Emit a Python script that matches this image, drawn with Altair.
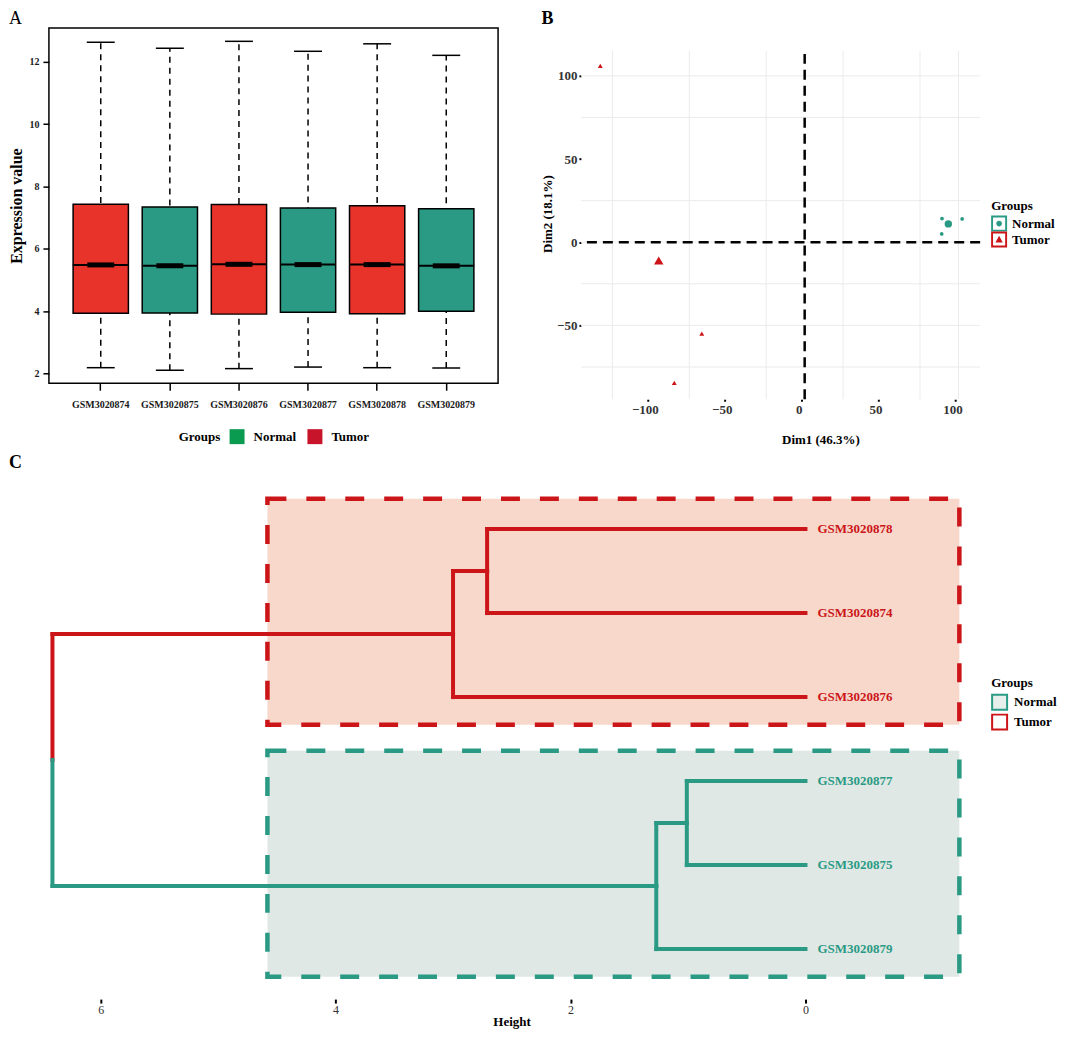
import altair as alt
import pandas as pd

FONT = "Liberation Serif"

# ---------------- Panel A : boxplots ----------------
samples = ["GSM3020874", "GSM3020875", "GSM3020876", "GSM3020877", "GSM3020878", "GSM3020879"]
sample_groups = ["Tumor", "Normal", "Tumor", "Normal", "Tumor", "Normal"]
whisker_low = [2.18, 2.10, 2.15, 2.20, 2.18, 2.17]
q1 = [3.93, 3.94, 3.90, 3.96, 3.91, 3.99]
median = [5.48, 5.45, 5.50, 5.49, 5.49, 5.45]
q3 = [7.43, 7.34, 7.42, 7.31, 7.38, 7.28]
whisker_high = [12.63, 12.44, 12.66, 12.34, 12.58, 12.21]
y_ticks_a = [2, 4, 6, 8, 10, 12]

group_names = ["Normal", "Tumor"]
box_fill = {"Normal": "#2A9A84", "Tumor": "#E7332A"}
legend_a_colors = ["#0A9B50", "#C8142B"]

# ---------------- Panel B : PCA ----------------
tumor_dim1 = [-132.9, -66.9, -84.8]
tumor_dim2 = [106.0, -55.0, -84.6]
normal_dim1 = [89.3, 102.4, 89.1]
normal_dim2 = [14.2, 14.0, 5.0]
tumor_center = [-94.9, -11.0]
normal_center = [93.4, 11.0]
grid_x = [-125, -75, -25, 25, 75, 100]
grid_y = [100, 75, 25, 0, -25, -50, -75]
ticks_x_b = [-100, -50, 0, 50, 100]
ticks_y_b = [-50, 0, 50, 100]

# ---------------- Panel C : dendrogram ----------------
leaf_names = ["GSM3020878", "GSM3020874", "GSM3020876", "GSM3020877", "GSM3020875", "GSM3020879"]
leaf_groups = ["Tumor", "Tumor", "Tumor", "Normal", "Normal", "Normal"]
# (child a, child b, merge height)
merges = [("L0", "L1", 2.71), ("M0", "L2", 3.00), ("L3", "L4", 1.01), ("M2", "L5", 1.27), ("M1", "M3", 6.41)]
cluster_box_height = [4.58, -1.31]
ticks_c = [0, 2, 4, 6]

RED = "#CC1518"
GREEN = "#2A9A84"
line_col = {"Tumor": RED, "Normal": GREEN}

# ======================= Panel A =======================
dfA = pd.DataFrame({"sample": samples, "group": sample_groups, "lo": whisker_low, "q1": q1,
                    "med": median, "q3": q3, "hi": whisker_high})
dfA["col"] = dfA["group"].map(box_fill)
A_W, A_H = 450, 356
xA_scale = alt.Scale(paddingInner=0.2, paddingOuter=0.35)
yA_scale = alt.Scale(domain=[1.68, 13.09], nice=False, zero=False)

xA_axis = alt.Axis(labelAngle=0, tickSize=7, tickWidth=1.5, tickColor="black", labelPadding=9,
                   labelFont=FONT, labelFontSize=10, labelFontWeight="bold", labelColor="#1a1a1a",
                   domain=False, grid=False)
yA_axis = alt.Axis(values=y_ticks_a, tickSize=6, tickWidth=1.5, tickColor="black", labelPadding=4,
                   labelFont=FONT, labelFontSize=10, labelFontWeight="bold", labelColor="#1a1a1a",
                   domain=False, grid=False, titleFont=FONT, titleFontSize=16, titleFontWeight="bold",
                   titleColor="black", titlePadding=4)


def xa():
    return alt.X("sample:N", sort=samples, scale=xA_scale, axis=xA_axis, title=None)


def ya(field):
    return alt.Y(field, type="quantitative", scale=yA_scale, axis=yA_axis, title="Expression value")


baseA = alt.Chart(dfA)
whisk = baseA.mark_rule(color="black", strokeWidth=1.5, strokeDash=[6, 5]).encode(
    x=xa(), y=ya("lo"), y2="hi:Q")
caps_lo = baseA.mark_tick(color="black", size=28, thickness=1.5, opacity=1).encode(x=xa(), y=ya("lo"))
caps_hi = baseA.mark_tick(color="black", size=28, thickness=1.5, opacity=1).encode(x=xa(), y=ya("hi"))
boxes = baseA.mark_bar(stroke="black", strokeWidth=1.5, opacity=1).encode(
    x=xa(), y=ya("q1"), y2="q3:Q", fill=alt.Fill("col:N", scale=None))
med_line = baseA.mark_tick(color="black", size=56, thickness=2, opacity=1).encode(x=xa(), y=ya("med"))
med_bar = baseA.mark_tick(color="black", size=27, thickness=5, opacity=1).encode(x=xa(), y=ya("med"))
legA = alt.Chart(pd.DataFrame({"legend_group": group_names})).transform_filter("false").mark_square(
    size=225, opacity=1).encode(
    color=alt.Color("legend_group:N", scale=alt.Scale(domain=group_names, range=legend_a_colors),
                    legend=alt.Legend(title="Groups", orient="none", legendX=130, legendY=402,
                                      direction="horizontal", titleOrient="left", titleFont=FONT,
                                      titleFontSize=13, titleFontWeight="bold", titleColor="black",
                                      titlePadding=9, titleBaseline="middle",
                                      labelFont=FONT, labelFontSize=13, labelFontWeight="bold",
                                      labelColor="black", symbolSize=225, symbolType="square",
                                      symbolStrokeWidth=0, labelOffset=9, columnPadding=11)))

panelA = alt.layer(whisk, caps_lo, caps_hi, boxes, med_line, med_bar, legA).properties(
    width=A_W, height=A_H,
    view=alt.ViewBackground(stroke="black", strokeWidth=1.5),
    title=alt.TitleParams("A", anchor="start", frame="bounds", fontSize=18, fontWeight="normal",
                          font=FONT, offset=0, color="black"))

# ======================= Panel B =======================
B_W, B_H = 400, 372
B_XMIN, B_XMAX = -145.5, 114.1
B_YMIN, B_YTOP, B_YMAX = -94.4, 115.0, 128.8
xB_scale = alt.Scale(domain=[B_XMIN, B_XMAX], nice=False, zero=False)
yB_scale = alt.Scale(domain=[B_YMIN, B_YMAX], nice=False, zero=False)
xB_axis = alt.Axis(values=ticks_x_b, grid=False, domain=False, tickSize=2, tickWidth=2, tickColor="black",
                   labelOffset=-3, tickOffset=-3, labelFont=FONT, labelFontSize=13, labelFontWeight="bold",
                   labelColor="#333333", labelPadding=2, titleFont=FONT, titleFontSize=13,
                   titleFontWeight="bold", titleColor="black", titleX=B_W / 2 + 40, titleY=34)
yB_axis = alt.Axis(values=ticks_y_b, grid=False, domain=False, tickSize=2, tickWidth=2, tickColor="black",
                   labelFont=FONT, labelFontSize=13, labelFontWeight="bold", labelColor="#333333",
                   labelPadding=2, titleFont=FONT, titleFontSize=13, titleFontWeight="bold",
                   titleColor="black", titlePadding=2)
TX, TY = "Dim1 (46.3%)", "Dim2 (18.1%)"


def xb(field):
    return alt.X(field, type="quantitative", scale=xB_scale, axis=xB_axis, title=TX)


def yb(field):
    return alt.Y(field, type="quantitative", scale=yB_scale, axis=yB_axis, title=TY)


def yb_span():
    return dict(y=alt.YDatum(B_YMIN, scale=yB_scale, axis=yB_axis, title=TY), y2=alt.Y2Datum(B_YTOP))


gridV = alt.Chart(pd.DataFrame({"gx": grid_x})).mark_rule(color="#EBEBEB", strokeWidth=1).encode(
    x=xb("gx"), **yb_span())
gridH = alt.Chart(pd.DataFrame({"gy": grid_y})).mark_rule(color="#EBEBEB", strokeWidth=1).encode(
    y=yb("gy"))
zeroV = alt.Chart(pd.DataFrame({"v": [0]})).mark_rule(color="black", strokeWidth=2.5, strokeDash=[10, 6]).encode(
    x=xb("v"), **yb_span())
zeroH = alt.Chart(pd.DataFrame({"v": [0]})).mark_rule(color="black", strokeWidth=2.5, strokeDash=[10, 6]).encode(
    y=yb("v"))


def pts(xs, ys, mark):
    return alt.Chart(pd.DataFrame({"d1": xs, "d2": ys})).mark_point(**mark).encode(x=xb("d1"), y=yb("d2"))


tri_small = pts(tumor_dim1, tumor_dim2, dict(shape="triangle-up", filled=True, size=24, color=RED, opacity=1))
tri_big = pts([tumor_center[0]], [tumor_center[1]], dict(shape="triangle-up", filled=True, size=90, color=RED, opacity=1))
cir_small = pts(normal_dim1, normal_dim2, dict(shape="circle", filled=True, size=14, color=GREEN, opacity=1))
cir_big = pts([normal_center[0]], [normal_center[1]], dict(shape="circle", filled=True, size=55, color=GREEN, opacity=1))

ring = "M-1,-1L1,-1L1,1L-1,1Z M-0.76,-0.76L-0.76,0.76L0.76,0.76L0.76,-0.76Z "
path_normal = ring + "M0.36,0A0.36,0.36,0,1,1,-0.36,0A0.36,0.36,0,1,1,0.36,0Z"
path_tumor = ring + "M0,-0.46L0.46,0.36L-0.46,0.36Z"


def legB():
    return alt.Legend(title="Groups", orient="none", legendX=B_W + 11, legendY=172, titleFont=FONT,
                      titleFontSize=13, titleFontWeight="bold", titleColor="black", titlePadding=3,
                      labelFont=FONT, labelFontSize=13, labelFontWeight="bold", labelColor="black",
                      symbolSize=256, symbolStrokeWidth=0, labelOffset=5, rowPadding=-1)


legendB = alt.Chart(pd.DataFrame({"legend_group": group_names})).transform_filter("false").mark_point(
    filled=True, size=256, opacity=1).encode(
    color=alt.Color("legend_group:N", scale=alt.Scale(domain=group_names, range=[GREEN, RED]), legend=legB()),
    shape=alt.Shape("legend_group:N", scale=alt.Scale(domain=group_names, range=[path_normal, path_tumor]),
                    legend=legB()))

panelB = alt.layer(gridV, gridH, zeroV, zeroH, tri_small, tri_big, cir_small, cir_big, legendB).properties(
    width=B_W, height=B_H,
    title=alt.TitleParams("B", anchor="start", frame="bounds", fontSize=18, fontWeight="bold",
                          font=FONT, offset=0, color="black"))

# ======================= Panel C =======================
pos = {}
height = {}
grp = {}
for i, g in enumerate(leaf_groups):
    pos["L%d" % i] = i + 1
    height["L%d" % i] = 0.0
    grp["L%d" % i] = g
segs = []
for k, (a, b, h) in enumerate(merges):
    m = "M%d" % k
    pos[m] = (pos[a] + pos[b]) / 2
    height[m] = h
    grp[m] = grp[a] if grp[a] == grp[b] else "mixed"
    for c in (a, b):
        segs.append({"x": height[c], "x2": h, "y": pos[c], "y2": pos[c], "group": grp[c]})
        segs.append({"x": h, "x2": h, "y": pos[c], "y2": pos[m], "group": grp[c]})
dfSeg = pd.DataFrame(segs)
dfSeg["col"] = dfSeg["group"].map(line_col)

dfLeaf = pd.DataFrame({"name": leaf_names, "group": leaf_groups,
                       "pos": list(range(1, len(leaf_names) + 1)), "h": [0.0] * len(leaf_names)})
dfLeaf["col"] = dfLeaf["group"].map(line_col)
clusters = []
for g in ["Tumor", "Normal"]:
    idx = [i + 1 for i, lg in enumerate(leaf_groups) if lg == g]
    clusters.append({"group": g, "y": min(idx) - 0.36, "y2": max(idx) + 0.33,
                     "x": cluster_box_height[0], "x2": cluster_box_height[1]})
dfClu = pd.DataFrame(clusters)

C_W, C_H = 927, 505
xC_scale = alt.Scale(domain=[-1.436, 6.44], reverse=True, nice=False, zero=False)
yC_scale = alt.Scale(domain=[0.5, 6.5], reverse=True, nice=False, zero=False)
xC_axis = alt.Axis(values=ticks_c, grid=False, domain=False, tickSize=4, tickWidth=2, tickColor="black",
                   offset=8, labelFont=FONT, labelFontSize=12, labelFontWeight="normal",
                   labelColor="#333333", labelPadding=1, titleFont=FONT, titleFontSize=13,
                   titleFontWeight="bold", titleColor="black", titlePadding=0)


def xc(field):
    return alt.X(field, type="quantitative", scale=xC_scale, axis=xC_axis, title="Height")


def yc(field):
    return alt.Y(field, type="quantitative", scale=yC_scale, axis=None)


rect_layers = []
for g, fillc, strokec in [("Tumor", "#F7D8CB", RED), ("Normal", "#DFE8E4", GREEN)]:
    rect_layers.append(alt.Chart(dfClu).transform_filter(alt.datum.group == g).mark_rect(
        fill=fillc, stroke=strokec, strokeWidth=4.5, strokeDash=[19, 20], opacity=1).encode(
        x=xc("x"), x2="x2:Q", y=yc("y"), y2="y2:Q"))

branches = alt.Chart(dfSeg).mark_rule(strokeWidth=4, strokeCap="square").encode(
    x=xc("x"), x2="x2:Q", y=yc("y"), y2="y2:Q", color=alt.Color("col:N", scale=None))
labelsC = alt.Chart(dfLeaf).mark_text(align="left", baseline="middle", dx=12, font=FONT, fontSize=13,
                                      fontWeight="bold").encode(
    x=xc("h"), y=yc("pos"), text="name:N", color=alt.Color("col:N", scale=None))


def legC():
    return alt.Legend(title="Groups", orient="none", legendX=944, legendY=190, titleFont=FONT,
                      titleFontSize=13, titleFontWeight="bold", titleColor="black", titlePadding=4,
                      labelFont=FONT, labelFontSize=13, labelFontWeight="bold", labelColor="black",
                      symbolSize=225, symbolStrokeWidth=2, labelOffset=6, rowPadding=-4,
                      symbolType="square")


legendC = alt.Chart(pd.DataFrame({"legend_group": group_names})).transform_filter("false").mark_point(
    shape="square", filled=True, size=225, strokeWidth=2, opacity=1).encode(
    fill=alt.Fill("legend_group:N", scale=alt.Scale(domain=group_names, range=["#E6EFEB", "#FFFFFF"]),
                  legend=legC()),
    stroke=alt.Stroke("legend_group:N", scale=alt.Scale(domain=group_names, range=[GREEN, RED]),
                      legend=legC()))

panelC = alt.layer(*rect_layers, branches, labelsC, legendC).properties(
    width=C_W, height=C_H,
    title=alt.TitleParams("C", anchor="start", frame="bounds", fontSize=18, fontWeight="bold",
                          font=FONT, offset=15, dx=-40, color="black"))

top = alt.hconcat(panelA, panelB, spacing=42).resolve_scale(
    color="independent", shape="independent", fill="independent", stroke="independent")
chart = alt.vconcat(top, panelC, spacing=8).resolve_scale(
    color="independent", shape="independent", fill="independent", stroke="independent"
).properties(padding=0, background="white").configure(font=FONT).configure_view(strokeWidth=0)

chart.save("out.html", embed_options={"renderer": "svg", "actions": False})
